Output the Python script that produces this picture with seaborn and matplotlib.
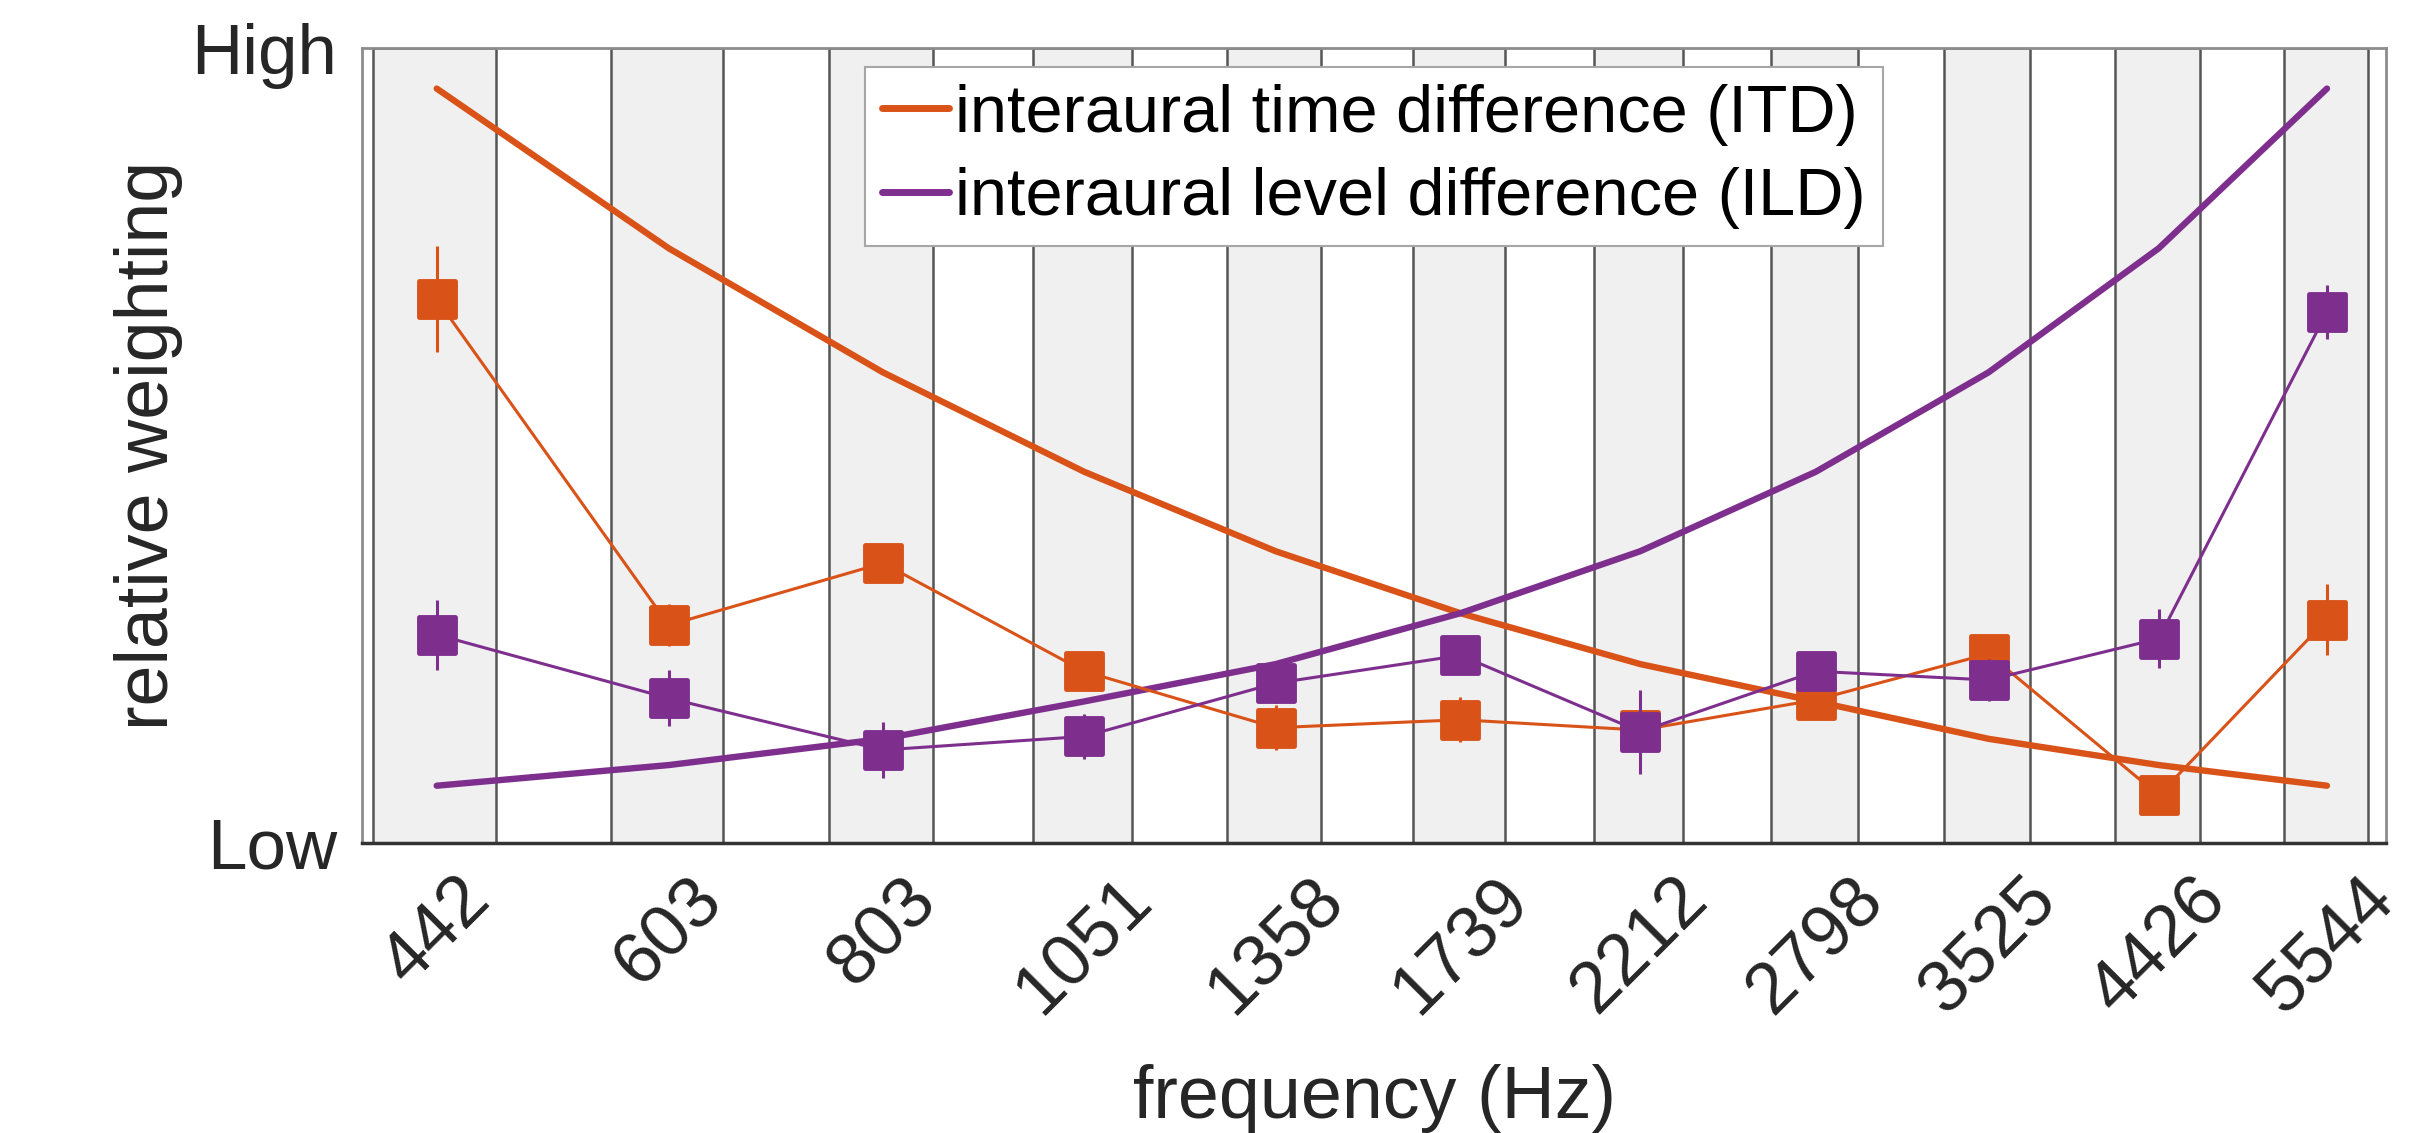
import numpy as np
import pandas as pd
import matplotlib
matplotlib.use("Agg")
import matplotlib.pyplot as plt
from matplotlib.markers import MarkerStyle
from matplotlib.ticker import FixedLocator, NullLocator, FixedFormatter
import seaborn as sns

# ---------------- data ----------------
freqs = [442, 603, 803, 1051, 1358, 1739, 2212, 2798, 3525, 4426, 5544]
tick_labels = ["442", "603", "803", "1051", "1358", "1739", "2212", "2798", "3525", "4426", "5544"]

itd_model = [0.949, 0.748, 0.592, 0.467, 0.367, 0.289, 0.225, 0.178, 0.131, 0.098, 0.072]
ild_model = [0.072, 0.098, 0.131, 0.178, 0.225, 0.289, 0.367, 0.467, 0.592, 0.748, 0.949]

itd_weight = [0.684, 0.274, 0.352, 0.216, 0.145, 0.155, 0.142, 0.180, 0.238, 0.060, 0.281]
itd_err = [0.067, 0.026, 0.015, 0.012, 0.028, 0.028, 0.020, 0.012, 0.015, 0.012, 0.045]
ild_weight = [0.262, 0.182, 0.117, 0.134, 0.201, 0.236, 0.140, 0.216, 0.205, 0.257, 0.668]
ild_err = [0.044, 0.035, 0.035, 0.028, 0.025, 0.015, 0.053, 0.012, 0.026, 0.037, 0.034]

itd_label = "interaural time difference (ITD)"
ild_label = "interaural level difference (ILD)"

# ---------------- style ----------------
sns.set_style("white")
plt.rcParams["font.family"] = ["Liberation Sans", "DejaVu Sans"]
plt.rcParams["text.color"] = "#262626"

orange = "#D95319"
purple = "#7E2F8E"

fig = plt.figure(figsize=(24.35, 11.33), dpi=100)
ax = fig.add_axes([0.1487, 0.256, 0.9799 - 0.1487, 0.9576 - 0.256])
ax.set_xscale("log")

# ERB-wide frequency bands around each channel
for f in freqs:
    erb = 24.7 * (4.37 * f / 1000.0 + 1.0)
    ax.axvspan(f - erb / 2, f + erb / 2, facecolor="#f0f0f0", edgecolor="#555555",
               linewidth=1.8, zorder=0)

df_model = pd.DataFrame({"freq": freqs, "itd": itd_model, "ild": ild_model})
df_w = pd.DataFrame({"freq": freqs, "itd": itd_weight, "ild": ild_weight,
                     "itd_err": itd_err, "ild_err": ild_err})

sns.lineplot(data=df_model, x="freq", y="itd", ax=ax, color=orange, lw=4.6,
             label=itd_label, zorder=2)
sns.lineplot(data=df_model, x="freq", y="ild", ax=ax, color=purple, lw=4.6,
             label=ild_label, zorder=2)

mk = MarkerStyle("s", joinstyle="round")
ax.errorbar(df_w["freq"], df_w["itd"], yerr=df_w["itd_err"], fmt="none",
            ecolor=orange, elinewidth=2.2, capsize=0, zorder=3)
sns.lineplot(data=df_w, x="freq", y="itd", ax=ax, color=orange, lw=2.2,
             marker=mk, markersize=25.5, markeredgewidth=3.5, markeredgecolor=orange,
             markerfacecolor=orange, legend=False, zorder=3)
ax.errorbar(df_w["freq"], df_w["ild"], yerr=df_w["ild_err"], fmt="none",
            ecolor=purple, elinewidth=2.2, capsize=0, zorder=4)
sns.lineplot(data=df_w, x="freq", y="ild", ax=ax, color=purple, lw=2.2,
             marker=mk, markersize=25.5, markeredgewidth=3.5, markeredgecolor=purple,
             markerfacecolor=purple, legend=False, zorder=4)

ax.set_xlim(400, 6000)
ax.set_ylim(0, 1)

ax.xaxis.set_major_locator(FixedLocator(freqs))
ax.xaxis.set_major_formatter(FixedFormatter(tick_labels))
ax.xaxis.set_minor_locator(NullLocator())
ax.set_yticks([0, 1])
ax.set_yticklabels(["Low", "High"])

ax.tick_params(axis="x", length=0, pad=16, labelsize=52, labelcolor="#262626",
               labelrotation=45)
ax.tick_params(axis="y", length=0, pad=18, labelsize=51, labelcolor="#262626")

ax.set_xlabel("frequency (Hz)", fontsize=53, color="#262626", labelpad=27)
ax.set_ylabel("relative weighting", fontsize=53, color="#262626", labelpad=6)

for side in ["left", "top", "right"]:
    ax.spines[side].set_color("#8c8c8c")
    ax.spines[side].set_linewidth(2)
ax.spines["bottom"].set_color("#333333")
ax.spines["bottom"].set_linewidth(2.5)

leg = ax.legend(loc="upper center", bbox_to_anchor=(0.5, 0.976), fontsize=48,
                handlelength=1.0, handletextpad=0.1, borderpad=0.25,
                labelspacing=0.32, frameon=True, fancybox=False,
                edgecolor="#a6a6a6", framealpha=1, borderaxespad=0)
leg.get_frame().set_linewidth(1.5)
for line in leg.get_lines():
    line.set_linewidth(5)
for t in leg.get_texts():
    t.set_color("black")

fig.savefig("out.png", dpi=100, facecolor="white")
